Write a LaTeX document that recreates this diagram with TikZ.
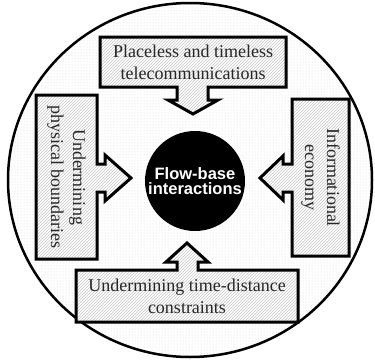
\documentclass[tikz,border=0pt]{standalone}
\usepackage{fontspec}
\setmainfont{Liberation Serif}
\newfontfamily\flowfont{Liberation Sans}
\usetikzlibrary{patterns}
\begin{document}
\begin{tikzpicture}[x=1pt,y=-1pt,
  shapebox/.style={line width=3pt, line join=miter, preaction={fill=white}, pattern=north east lines, pattern color=gray!45},
  boxtext/.style={font=\fontsize{18}{22}\selectfont, text=black!85, align=center, inner sep=0pt},
]
\useasboundingbox (0,0) rectangle (375,359);
% outer disc
\draw[line width=2.5pt, preaction={fill=white}, pattern=dots, pattern color=gray!30]
  (190,180) ellipse [x radius=182pt, y radius=177pt];
% top box with arrow
\draw[shapebox] (100,37) -- (286,37) -- (286,87) -- (208,87) -- (208,100) -- (218,100)
  -- (193,114) -- (168,100) -- (177,100) -- (177,87) -- (100,87) -- cycle;
% left box with arrow
\draw[shapebox] (36,95) -- (97,95) -- (97,164) -- (105,164) -- (105,155) -- (131,178)
  -- (105,201) -- (105,192) -- (97,192) -- (97,259) -- (36,259) -- cycle;
% right box with arrow
\draw[shapebox] (349,99) -- (292,99) -- (292,164) -- (283,164) -- (283,156) -- (260,178)
  -- (283,200) -- (283,192) -- (292,192) -- (292,256) -- (349,256) -- cycle;
% bottom box with arrow
\draw[shapebox] (76,270) -- (177,270) -- (177,262) -- (166,262) -- (187,243) -- (208,262)
  -- (198,262) -- (198,270) -- (298,270) -- (298,322) -- (76,322) -- cycle;
% centre
\node[circle, fill=black, minimum size=100pt, inner sep=0pt, text=white, align=center,
  font=\flowfont\bfseries\fontsize{16.5}{15}\selectfont] (core) at (195,181) {Flow-base\\interactions};
% texts
\node[boxtext] (top) at (193,62) {Placeless and timeless\\telecommunications};
\node[boxtext, rotate=-90] (left) at (66.5,177) {Undermining\\physical boundaries};
\node[boxtext, rotate=-90] (right) at (320.5,177.5) {Informational\\economy};
\node[boxtext] (bottom) at (187,296) {Undermining time-distance\\constraints};
\end{tikzpicture}
\end{document}
